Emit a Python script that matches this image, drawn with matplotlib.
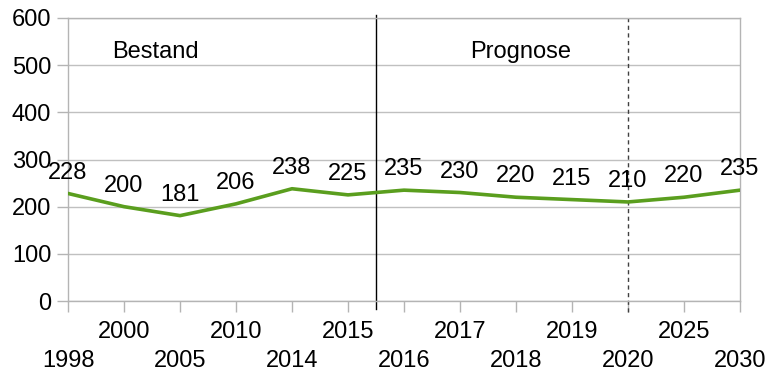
import matplotlib
matplotlib.use("Agg")
import matplotlib.pyplot as plt

plt.rcParams['font.family'] = ['Liberation Sans', 'DejaVu Sans']

years = ["1998", "2000", "2005", "2010", "2014", "2015", "2016",
         "2017", "2018", "2019", "2020", "2025", "2030"]
values = [228, 200, 181, 206, 238, 225, 235, 230, 220, 215, 210, 220, 235]
y_ticks = [0, 100, 200, 300, 400, 500, 600]

FS = 17

fig = plt.figure(figsize=(7.69, 3.76), dpi=100)
ax = fig.add_axes([68 / 769, 1 - 301 / 376, (740 - 68) / 769, (301 - 18) / 376])

x = list(range(len(years)))
ax.plot(x, values, color="#5a9e1e", linewidth=2.6, solid_capstyle="round", zorder=3)

for xi, v in zip(x, values):
    ax.annotate(str(v), (xi, v), xytext=(0, 15), textcoords="offset points",
                ha="center", va="center", fontsize=FS, color="black", zorder=4)

ax.set_xlim(0, len(years) - 1)
ax.set_ylim(0, 600)
ax.set_yticks(y_ticks)
ax.set_yticklabels([str(t) for t in y_ticks], fontsize=FS)
ax.grid(axis="y", color="#c0c0c0", linewidth=1.0)
ax.set_axisbelow(True)

# staggered category labels
ax.set_xticks(x)
ax.set_xticklabels([])
for i, lab in enumerate(years):
    ax.annotate(lab, (i, 0), xycoords=("data", "axes fraction"),
                xytext=(0, -22 if i % 2 == 1 else -43), textcoords="offset points",
                ha="center", va="center", fontsize=FS, annotation_clip=False)

for s in ax.spines.values():
    s.set_color("#b4b4b4")
    s.set_linewidth(1.0)
ax.tick_params(axis="both", color="#b4b4b4", length=8, width=1.0)
ax.tick_params(axis="y", pad=4)

# period separators
ax.axvline(5.5, ymin=-0.028, ymax=1.01, color="black", linewidth=1.0, clip_on=False, zorder=2)
ax.axvline(10, ymin=-0.039, ymax=1.0, color="#404040", linewidth=1.0,
           linestyle=(0, (3, 2.5)), clip_on=False, zorder=2)

ax.text(1.56, 515, "Bestand", ha="center", va="baseline", fontsize=FS)
ax.text(8.09, 515, "Prognose", ha="center", va="baseline", fontsize=FS)

fig.savefig("out.png", dpi=100)
